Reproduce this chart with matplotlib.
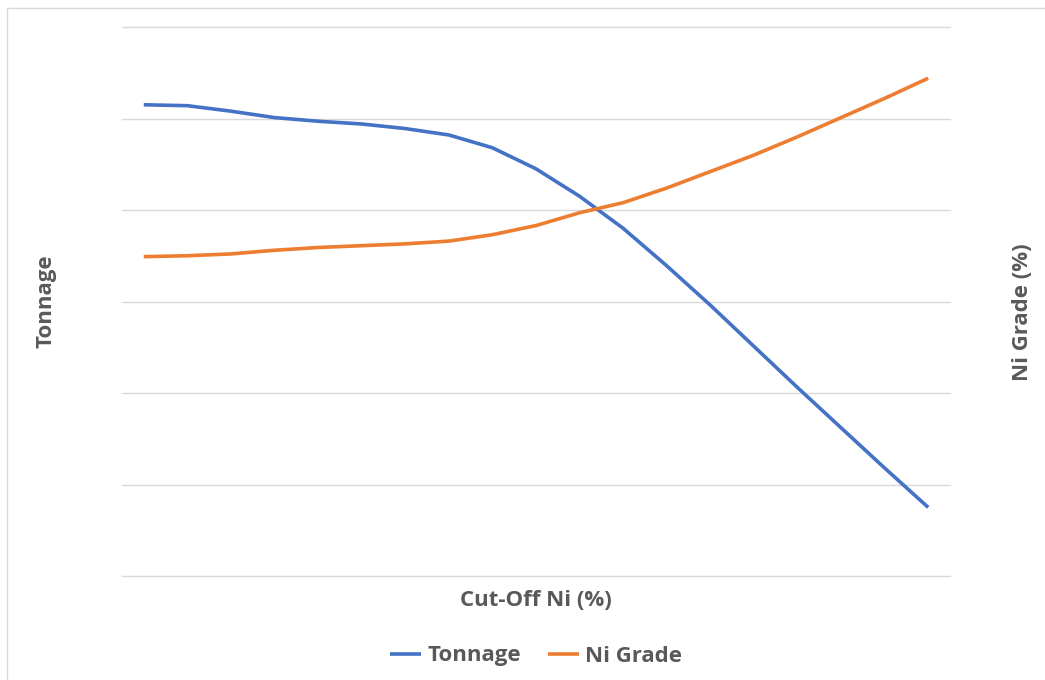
import matplotlib.pyplot as plt
from matplotlib.patches import Rectangle

# values, in gridline units (no tick labels shown)
cutoff_steps = list(range(19))
tonnage = [5.15, 5.14, 5.08, 5.01, 4.97, 4.94, 4.89, 4.82, 4.68, 4.45,
           4.15, 3.80, 3.39, 2.96, 2.51, 2.06, 1.62, 1.18, 0.75]
ni_grade = [3.49, 3.50, 3.52, 3.56, 3.59, 3.61, 3.63, 3.66, 3.73, 3.83,
            3.97, 4.08, 4.24, 4.42, 4.60, 4.80, 5.01, 5.22, 5.44]

BLUE = "#4472C4"
ORANGE = "#ED7D31"
TEXT = "#595959"
GRID = "#d9d9d9"

plt.rcParams["font.family"] = ["Open Sans", "DejaVu Sans"]

fig = plt.figure(figsize=(10.45, 6.8), dpi=100)
fig.patches.append(Rectangle((7 / 1045, -0.1), 1.2, 1.1 - 8 / 680,
                             transform=fig.transFigure, fill=False,
                             edgecolor=GRID, linewidth=1))

ax = fig.add_axes([122 / 1045, 1 - 576 / 680, 828 / 1045, 549 / 680])
ax2 = ax.twinx()

ax.plot(cutoff_steps, tonnage, color=BLUE, linewidth=2.6, label="Tonnage",
        solid_capstyle="butt", zorder=3)
ax2.plot(cutoff_steps, ni_grade, color=ORANGE, linewidth=2.6, label="Ni Grade",
         solid_capstyle="butt", zorder=3)

for a in (ax, ax2):
    a.set_ylim(0, 6)
    a.set_xlim(-0.5, 18.5)
    a.set_xticks([])
    a.set_yticks([])
    for s in a.spines.values():
        s.set_visible(False)
    a.patch.set_visible(False)

for v in range(7):
    ax.axhline(v, color=GRID, linewidth=1, zorder=1, clip_on=False)

fig.text(536 / 1045, 1 - 600 / 680, "Cut-Off Ni (%)", ha="center", va="center",
         fontsize=16, fontweight="bold", color=TEXT)
fig.text(46 / 1045, 1 - 301 / 680, "Tonnage", ha="center", va="center",
         rotation=90, fontsize=16, fontweight="bold", color=TEXT)
fig.text(1023 / 1045, 1 - 312 / 680, "Ni Grade (%)", ha="center", va="center",
         rotation=90, fontsize=16, fontweight="bold", color=TEXT)

h1, l1 = ax.get_legend_handles_labels()
h2, l2 = ax2.get_legend_handles_labels()
leg = fig.legend(h1 + h2, l1 + l2, loc="center", ncol=2,
                 bbox_to_anchor=(536 / 1045, 1 - 656 / 680), frameon=False,
                 handlelength=1.4, handletextpad=0.3, columnspacing=1.2,
                 prop={"size": 16, "weight": "bold"})
for t in leg.get_texts():
    t.set_color(TEXT)

fig.savefig("out.png", dpi=100)
